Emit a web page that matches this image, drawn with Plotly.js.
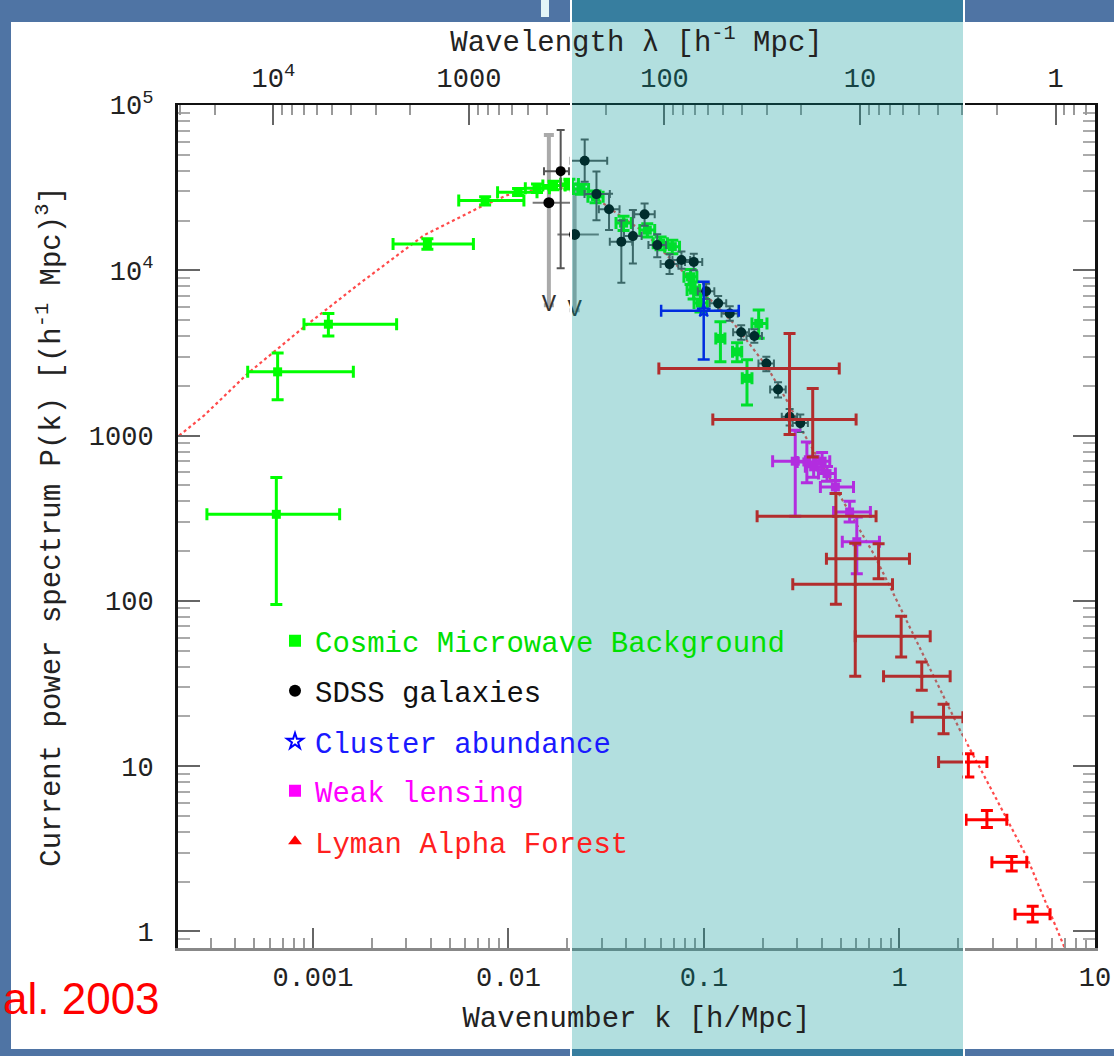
<!DOCTYPE html>
<html><head><meta charset="utf-8">
<script src="https://cdn.plot.ly/plotly-3.0.1.min.js"></script>
<style>html,body{margin:0;padding:0;background:#4f74a4;overflow:hidden}#chart{width:1114px;height:1056px}</style>
</head><body><div id="chart"></div>
<script>
// ---- model curve (LambdaCDM) ----
const modelK = [2.07e-4, 2.79e-4, 4.64e-4, 9.03e-4, 1.69e-3, 3.71e-3, 7.21e-3, 9.88e-3, 0.015, 0.020, 0.0253, 0.0389, 0.0493, 0.142, 0.210, 0.271, 0.3235, 0.498, 0.737, 0.897, 1.355, 2.04, 3.03, 4.48, 7.03];
const modelP = [1000, 1330, 2375, 4550, 8130, 16330, 24200, 28500, 31300, 31500, 29900, 20600, 17100, 4770, 2610, 1564, 1031, 425, 193, 121, 44.8, 16.5, 6.81, 2.82, 0.785];

// ---- Cosmic Microwave Background ----
const cmbK   = [6.5e-4, 6.6e-4, 1.2e-3, 3.85e-3, 7.6e-3, 0.0112, 0.0140, 0.0170, 0.0205, 0.0235, 0.0279, 0.0388, 0.0513, 0.060, 0.0689, 0.0854, 0.0885, 0.096, 0.1214, 0.1477, 0.166, 0.1905];
const cmbP   = [334, 2430, 4720, 14400, 26400, 29700, 31400, 32600, 33300, 31000, 27900, 19300, 17500, 14600, 13900, 9140, 7590, 6330, 3870, 3210, 2220, 4770];
const cmbKlo = [2.87e-4, 4.64e-4, 9.0e-4, 2.57e-3, 5.57e-3, 0.0088, 0.0122, 0.0150, 0.0185, 0.0215, 0.0255, 0.0355, 0.047, 0.055, 0.063, 0.079, 0.082, 0.089, 0.115, 0.140, 0.157, 0.176];
const cmbKhi = [1.37e-3, 1.61e-3, 2.68e-3, 6.62e-3, 0.0120, 0.0140, 0.0162, 0.0195, 0.0228, 0.0257, 0.0305, 0.0425, 0.056, 0.065, 0.075, 0.092, 0.095, 0.104, 0.128, 0.156, 0.176, 0.210];
const cmbPlo = [95, 1650, 4000, 13400, 24800, 28300, 29600, 30700, 31000, 28800, 25600, 17400, 15900, 13300, 12600, 8200, 6700, 5600, 2800, 2800, 1530, 3880];
const cmbPhi = [557, 3160, 5480, 15500, 27900, 31200, 33300, 34600, 35500, 33200, 30200, 21200, 19100, 15900, 15200, 10100, 8500, 7100, 4880, 3650, 2880, 5750];

// ---- SDSS galaxies ----
const sdssK   = [0.0185, 0.02455, 0.0282, 0.0327, 0.0378, 0.0433, 0.0497, 0.0577, 0.0667, 0.0767, 0.0887, 0.1026, 0.1182, 0.1355, 0.155, 0.181, 0.2085, 0.2393, 0.2743, 0.311];
const sdssP   = [39800, 46000, 28900, 23400, 14900, 16100, 21800, 14200, 10900, 11540, 11240, 7480, 6310, 5480, 4220, 4000, 2730, 1900, 1300, 1190];
const sdssKlo = [0.0152, 0.0208, 0.0245, 0.0290, 0.0330, 0.0390, 0.0440, 0.052, 0.060, 0.069, 0.080, 0.093, 0.107, 0.123, 0.141, 0.165, 0.190, 0.218, 0.250, 0.284];
const sdssKhi = [0.0204, 0.0320, 0.0330, 0.0370, 0.0430, 0.0480, 0.0560, 0.064, 0.074, 0.085, 0.098, 0.113, 0.130, 0.149, 0.170, 0.198, 0.228, 0.262, 0.300, 0.340];
const sdssPlo = [10300, 34300, 20100, 17500, 8410, 11000, 18600, 12000, 9500, 10200, 10000, 6700, 5700, 4950, 3800, 3650, 2450, 1700, 1150, 1050];
const sdssPhi = [70600, 61900, 39600, 29000, 20000, 23200, 25400, 16500, 12500, 13000, 12600, 8300, 7000, 6050, 4650, 4400, 3000, 2100, 1450, 1340];
// SDSS points whose error bars end in an arrow
const sdssLimK   = [0.0161, 0.0218];
const sdssLimP   = [25650, 16480];
const sdssLimKlo = [0.0133, 0.0178];
const sdssLimKhi = [0.0208, 0.0290];
const sdssLimPlo = [6150, 5740];
const sdssLimPhi = [65800, 30500];

// ---- Cluster abundance ----
const clK = [0.0997], clP = [5700], clKlo = [0.0604], clKhi = [0.1507], clPlo = [2890], clPhi = [8530];

// ---- Weak lensing ----
const wlK   = [0.293, 0.336, 0.364, 0.402, 0.426, 0.470, 0.556, 0.605];
const wlP   = [700, 693, 647, 700, 589, 489, 345, 228];
const wlKlo = [0.2245, 0.300, 0.330, 0.365, 0.385, 0.394, 0.46, 0.51];
const wlKhi = [0.330, 0.375, 0.400, 0.440, 0.470, 0.582, 0.71, 0.79];
const wlPlo = [325, 518, 560, 620, 530, 446, 300, 146];
const wlPhi = [1079, 916, 750, 790, 650, 535, 400, 322];

// ---- Lyman Alpha Forest ----
const lyK   = [0.274, 0.360, 0.473, 0.594, 0.782, 1.02, 1.30, 1.68, 2.25, 2.80, 3.75, 4.80];
const lyP   = [2550, 1251, 325, 126, 180, 61.1, 35.0, 19.8, 10.6, 4.74, 2.62, 1.27];
const lyKlo = [0.0588, 0.111, 0.187, 0.2846, 0.423, 0.594, 0.829, 1.16, 1.585, 2.19, 2.97, 3.90];
const lyKhi = [0.492, 0.600, 0.759, 0.921, 1.125, 1.436, 1.816, 2.11, 2.80, 3.54, 4.48, 5.89];
const lyPlo = [1016, 743, 95.3, 35.0, 136, 45.8, 28.8, 15.7, 8.6, 4.25, 2.32, 1.14];
const lyPhi = [4150, 1930, 447, 223, 222, 80.7, 42.7, 23.7, 11.9, 5.40, 2.84, 1.42];

// ---- axis ticks ----
const kTickVals = [0.001, 0.01, 0.1, 1, 10];
const kTickText = ['0.001', '0.01', '0.1', '1', '10'];
const lamTickVals = [10000, 1000, 100, 10, 1];
const lamTickText = ['10<sup>4</sup>', '1000', '100', '10', '1'];
const pTickVals = [1, 10, 100, 1000, 10000, 100000];
const pTickText = ['1', '10', '100', '1000', '10<sup>4</sup>', '10<sup>5</sup>'];

function minorVals(d0, d1) {
  const out = [];
  for (let d = d0; d <= d1; d++) for (let m = 2; m <= 9; m++) out.push(m * Math.pow(10, d));
  return out;
}
function errs(v, lo, hi, color, thick, w) {
  return {type: 'data', symmetric: false,
    array: hi.map((h, i) => h - v[i]), arrayminus: v.map((x, i) => x - lo[i]),
    color: color, thickness: thick, width: w};
}

const kRange = [-3.69, 1];
const log2pi = Math.log10(2 * Math.PI);
const lamRange = [log2pi - kRange[0], log2pi - kRange[1]];

const MONO = 'Liberation Mono, Courier New, monospace';

const traces = [
  {x: modelK, y: modelP, mode: 'lines', line: {color: '#ff4a4a', width: 2.2, dash: 'dot'},
   showlegend: false, hoverinfo: 'skip'},
  {x: lamTickVals, y: lamTickVals.map(() => 1), xaxis: 'x2', yaxis: 'y', mode: 'markers',
   marker: {opacity: 0}, showlegend: false, hoverinfo: 'skip'},
  {x: sdssLimK, y: sdssLimP, mode: 'markers', name: 'SDSS limits', showlegend: false,
   marker: {symbol: 'circle', size: 11, color: '#000'},
   error_x: errs(sdssLimK, sdssLimKlo, sdssLimKhi, '#777', 2, 0),
   error_y: errs(sdssLimP, sdssLimPlo, sdssLimPhi, '#aaa', 4, 5)},
  {x: sdssLimK, y: sdssLimPlo, mode: 'text', text: sdssLimK.map(() => 'V'), showlegend: false,
   textfont: {family: MONO, size: 24, color: '#333'}, textposition: 'middle center', hoverinfo: 'skip'},
  {x: cmbK, y: cmbP, mode: 'markers', name: 'Cosmic Microwave Background', legend: 'legend',
   marker: {symbol: 'square', size: 9, color: '#00ff00'},
   error_x: errs(cmbK, cmbKlo, cmbKhi, '#00ff00', 3, 6),
   error_y: errs(cmbP, cmbPlo, cmbPhi, '#00ff00', 3, 6)},
  {x: sdssK, y: sdssP, mode: 'markers', name: 'SDSS galaxies', legend: 'legend2',
   marker: {symbol: 'circle', size: 10, color: '#000'},
   error_x: errs(sdssK, sdssKlo, sdssKhi, '#555', 2, 4),
   error_y: errs(sdssP, sdssPlo, sdssPhi, '#555', 2, 4)},
  {x: clK, y: clP, mode: 'markers', name: 'Cluster abundance', legend: 'legend3',
   marker: {symbol: 'star-open', size: 10, color: '#0000ff', line: {width: 2}},
   error_x: errs(clK, clKlo, clKhi, '#0000ff', 2.5, 6),
   error_y: errs(clP, clPlo, clPhi, '#0000ff', 2.5, 6)},
  {x: wlK, y: wlP, mode: 'markers', name: 'Weak lensing', legend: 'legend4',
   marker: {symbol: 'square', size: 9, color: '#ff00ff'},
   error_x: errs(wlK, wlKlo, wlKhi, '#ff00ff', 3, 6),
   error_y: errs(wlP, wlPlo, wlPhi, '#ff00ff', 3, 6)},
  {x: lyK, y: lyP, mode: 'markers', name: 'Lyman Alpha Forest', legend: 'legend5',
   marker: {symbol: 'triangle-up', size: 5, color: '#ff0000'},
   error_x: errs(lyK, lyKlo, lyKhi, '#ff0000', 3, 6),
   error_y: errs(lyP, lyPlo, lyPhi, '#ff0000', 3, 6)}
];

const plotL = 178, plotR = 1095, plotT = 105, plotB = 948;
const W = 1114, H = 1056;
const px = v => (v - plotL) / (plotR - plotL);
const py = v => (plotB - v) / (plotB - plotT);

function leg(yc, color) {
  return {x: px(275), xanchor: 'left', y: py(yc), yanchor: 'middle',
    bgcolor: 'rgba(0,0,0,0)', borderwidth: 0, itemsizing: 'constant',
    font: {family: MONO, size: 29, color: color}};
}

const tickFont = {family: MONO, size: 27, color: '#222'};
const titleFont = {family: MONO, size: 29, color: '#222'};

const layout = {
  width: W, height: H,
  margin: {l: plotL, r: W - plotR, t: plotT, b: H - plotB, pad: 0},
  paper_bgcolor: 'rgba(0,0,0,0)', plot_bgcolor: 'rgba(0,0,0,0)',
  font: {family: MONO, color: '#222'},
  xaxis: {type: 'log', range: kRange, tickmode: 'array', tickvals: kTickVals, ticktext: kTickText,
    ticks: 'inside', ticklen: 20, tickwidth: 2, tickcolor: '#666', ticklabelstandoff: 3,
    showline: true, linecolor: '#888', linewidth: 3, mirror: false, showgrid: false, zeroline: false,
    tickfont: tickFont,
    minor: {tickmode: 'array', tickvals: minorVals(-4, 1), ticks: 'inside', ticklen: 10, tickwidth: 2, tickcolor: '#999', showgrid: false},
    title: {text: 'Wavenumber k [h/Mpc]', font: titleFont, standoff: 14}},
  xaxis2: {type: 'log', overlaying: 'x', side: 'top', anchor: 'y', range: lamRange,
    tickmode: 'array', tickvals: lamTickVals, ticktext: lamTickText,
    ticks: 'inside', ticklen: 20, tickwidth: 2, tickcolor: '#666', ticklabelstandoff: 5,
    showline: true, linecolor: '#111', linewidth: 2, showgrid: false, zeroline: false,
    tickfont: tickFont,
    minor: {tickmode: 'array', tickvals: minorVals(-1, 4), ticks: 'inside', ticklen: 10, tickwidth: 2, tickcolor: '#999', showgrid: false},
    title: {text: 'Wavelength λ [h<sup>-1</sup> Mpc]', font: titleFont, standoff: 0}},
  yaxis: {type: 'log', range: [-0.1, 5], tickmode: 'array', tickvals: pTickVals, ticktext: pTickText,
    ticks: 'inside', ticklen: 22, tickwidth: 2, tickcolor: '#666', ticklabelstandoff: 16,
    showline: true, linecolor: '#111', linewidth: 3, mirror: 'ticks', showgrid: false, zeroline: false,
    tickfont: tickFont,
    minor: {tickmode: 'array', tickvals: minorVals(-1, 4), ticks: 'inside', ticklen: 12, tickwidth: 2, tickcolor: '#aaa', showgrid: false},
    title: {text: 'Current power spectrum P(k) [(h<sup>-1</sup> Mpc)<sup>3</sup>]', font: titleFont, standoff: 20}},
  legend: leg(641, '#00e000'),
  legend2: leg(691, '#111111'),
  legend3: leg(741.5, '#1a1aff'),
  legend4: leg(791, '#ff00ff'),
  legend5: leg(841.5, '#ff2020'),
  shapes: [
    {type: 'rect', xref: 'paper', yref: 'paper', layer: 'below',
     x0: px(11), x1: px(1130), y0: py(1049), y1: py(22), fillcolor: '#ffffff', line: {width: 0}},
    {type: 'rect', xref: 'paper', yref: 'paper', layer: 'below',
     x0: px(541), x1: px(549), y0: py(17), y1: py(-2), fillcolor: '#e2f5f8', line: {width: 0}},
    {type: 'rect', xref: 'paper', yref: 'paper', layer: 'above',
     x0: px(571), x1: px(964), y0: py(1070), y1: py(-2), fillcolor: 'rgba(0,150,150,0.30)',
     line: {color: '#ffffff', width: 2}}
  ],
  annotations: [
    {text: 'al. 2003', xref: 'paper', yref: 'paper', x: px(1), y: py(998), xanchor: 'left', yanchor: 'middle',
     showarrow: false, font: {family: 'Liberation Sans, Arial, sans-serif', size: 44, color: '#ff0000'}}
  ]
};

Plotly.newPlot('chart', traces, layout, {displayModeBar: false, staticPlot: true});
</script>
</body></html>
